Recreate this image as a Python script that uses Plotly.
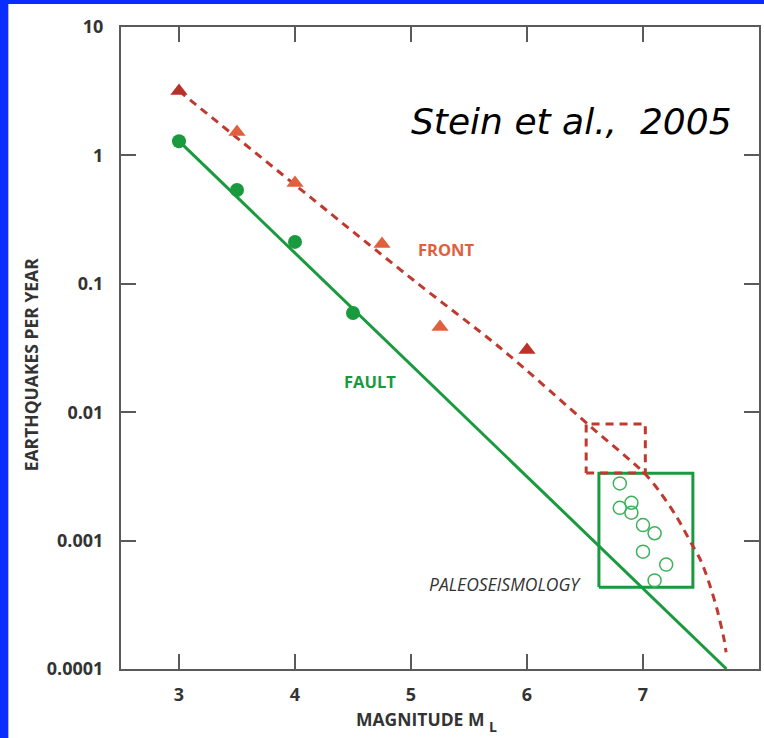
import math
import plotly.graph_objects as go

# ---------------- data ----------------
front_mag = [3.0, 3.5, 4.0, 4.75, 5.25, 6.0]
front_rate = [3.18, 1.52, 0.61, 0.204, 0.046, 0.0305]
front_colors = ["#b8302a", "#e0603e", "#e0603e", "#e0603e", "#e0603e", "#bb3328"]

front_curve_mag = [3.0, 5.02, 5.76, 6.55, 7.01, 7.14, 7.29, 7.415, 7.50, 7.57, 7.64, 7.70, 7.716]
front_curve_rate = [3.18, 0.107, 0.0322, 0.0077, 0.00336, 0.00243, 0.00153, 0.000957,
                    0.000693, 0.000468, 0.000288, 0.000168, 0.000135]

fault_mag = [3.0, 3.5, 4.0, 4.5]
fault_rate = [1.29, 0.538, 0.212, 0.0593]

fault_line_mag = [3.0, 7.72]
fault_line_rate = [1.29, 0.0001]

paleo_mag = [6.80, 6.80, 6.90, 6.90, 7.00, 7.10, 7.00, 7.20, 7.10]
paleo_rate = [0.00279, 0.0018, 0.00197, 0.00165, 0.00132, 0.00114, 0.00082, 0.00065, 0.00049]

front_box_mag = [6.51, 7.02]
front_box_rate = [0.00336, 0.0081]
paleo_box_mag = [6.62, 7.43]
paleo_box_rate = [0.000433, 0.00334]

x_ticks = [3, 4, 5, 6, 7]
y_ticks = [0.0001, 0.001, 0.01, 0.1, 1, 10]
y_tick_labels = ["0.0001", "0.001", "0.01", "0.1", "1", "10"]

RED = "#c0392e"
GREEN = "#1a9a3e"
LGREEN = "#3cb15c"
AXIS = "#5a5a5a"
TXT = "#333333"

fig = go.Figure()

def box(xs, ys):
    return [xs[0], xs[1], xs[1], xs[0], xs[0]], [ys[0], ys[0], ys[1], ys[1], ys[0]]

# paleoseismology box
bx, by = box(paleo_box_mag, paleo_box_rate)
fig.add_trace(go.Scatter(x=bx, y=by, mode="lines",
                         line=dict(color=GREEN, width=3), hoverinfo="skip"))
# front box (dashed)
bx, by = box(front_box_mag, front_box_rate)
fig.add_trace(go.Scatter(x=bx, y=by, mode="lines",
                         line=dict(color=RED, width=3, dash="8px,6px"), hoverinfo="skip"))

# fault line
fig.add_trace(go.Scatter(x=fault_line_mag, y=fault_line_rate, mode="lines",
                         line=dict(color=GREEN, width=3)))
# front curve
fig.add_trace(go.Scatter(x=front_curve_mag, y=front_curve_rate, mode="lines",
                         line=dict(color=RED, width=3, dash="8px,6px", shape="spline", smoothing=0.8)))

# paleo points
fig.add_trace(go.Scatter(x=paleo_mag, y=paleo_rate, mode="markers",
                         marker=dict(symbol="circle-open", size=13, color=LGREEN,
                                     line=dict(width=1.5, color=LGREEN))))
# fault points
fig.add_trace(go.Scatter(x=fault_mag, y=fault_rate, mode="markers",
                         marker=dict(symbol="circle", size=14, color=GREEN)))
# front points
fig.add_trace(go.Scatter(x=front_mag, y=front_rate, mode="markers",
                         marker=dict(symbol="triangle-up", size=15, color=front_colors)))

axis_common = dict(showline=True, linecolor=AXIS, linewidth=2, mirror="allticks",
                   ticks="inside", ticklen=15, tickwidth=2, tickcolor=AXIS,
                   showgrid=False, zeroline=False,
                   tickfont=dict(family="Open Sans", size=18, color=TXT, weight="bold"))

fig.update_xaxes(range=[2.5, 8.0], tickvals=x_ticks, ticklabelstandoff=8, **axis_common)
fig.update_yaxes(type="log", range=[-4, 1], tickvals=y_ticks, ticktext=y_tick_labels,
                 ticklabelstandoff=12, **axis_common)

L, R, T, B = 121, 3, 27, 69
W, H = 764, 738
pw, ph = W - L - R, H - T - B

def px(xp):
    return (xp - L) / pw

def py(yp):
    return 1 - (yp - T) / ph

annotations = [
    dict(text="Stein et al.,\u00a0\u00a02005", xref="paper", yref="paper",
         x=px(573), y=py(121), xanchor="center", yanchor="middle", showarrow=False,
         font=dict(family="DejaVu Sans", size=36, color="black", style="italic")),
    dict(text="FRONT", xref="x", yref="y", x=5.30, y=-0.729, showarrow=False,
         xanchor="center", yanchor="middle",
         font=dict(family="Open Sans", size=16.5, color="#e0603e", weight="bold")),
    dict(text="FAULT", xref="x", yref="y", x=4.65, y=-1.757, showarrow=False,
         xanchor="center", yanchor="middle",
         font=dict(family="Open Sans", size=16.5, color=GREEN, weight="bold")),
    dict(text="PALEOSEISMOLOGY", xref="x", yref="y", x=6.487, y=-3.338, showarrow=False,
         xanchor="right", yanchor="middle",
         font=dict(family="Open Sans", size=17.5, color=TXT, style="italic")),
    dict(text="EARTHQUAKES PER YEAR", xref="paper", yref="paper", x=px(31), y=py(365),
         xanchor="center", yanchor="middle", showarrow=False, textangle=-90,
         font=dict(family="Open Sans", size=17.5, color=TXT, weight="bold")),
    dict(text="MAGNITUDE M", xref="paper", yref="paper", x=px(421), y=py(719),
         xanchor="center", yanchor="middle", showarrow=False,
         font=dict(family="Open Sans", size=17.5, color=TXT, weight="bold")),
    dict(text="L", xref="paper", yref="paper", x=px(494), y=py(727),
         xanchor="center", yanchor="middle", showarrow=False,
         font=dict(family="Open Sans", size=14, color=TXT, weight="bold")),
]

shapes = [
    dict(type="rect", xref="paper", yref="paper", x0=px(-2), x1=px(8), y0=py(W + 10), y1=py(-2),
         fillcolor="#0a2dff", line=dict(width=0), layer="above"),
    dict(type="rect", xref="paper", yref="paper", x0=px(-2), x1=px(W + 5), y0=py(4), y1=py(-2),
         fillcolor="#0a2dff", line=dict(width=0), layer="above"),
]

fig.update_layout(width=W, height=H, margin=dict(l=L, r=R, t=T, b=B),
                  paper_bgcolor="white", plot_bgcolor="white", showlegend=False,
                  annotations=annotations, shapes=shapes)

fig.write_html("out.html")
